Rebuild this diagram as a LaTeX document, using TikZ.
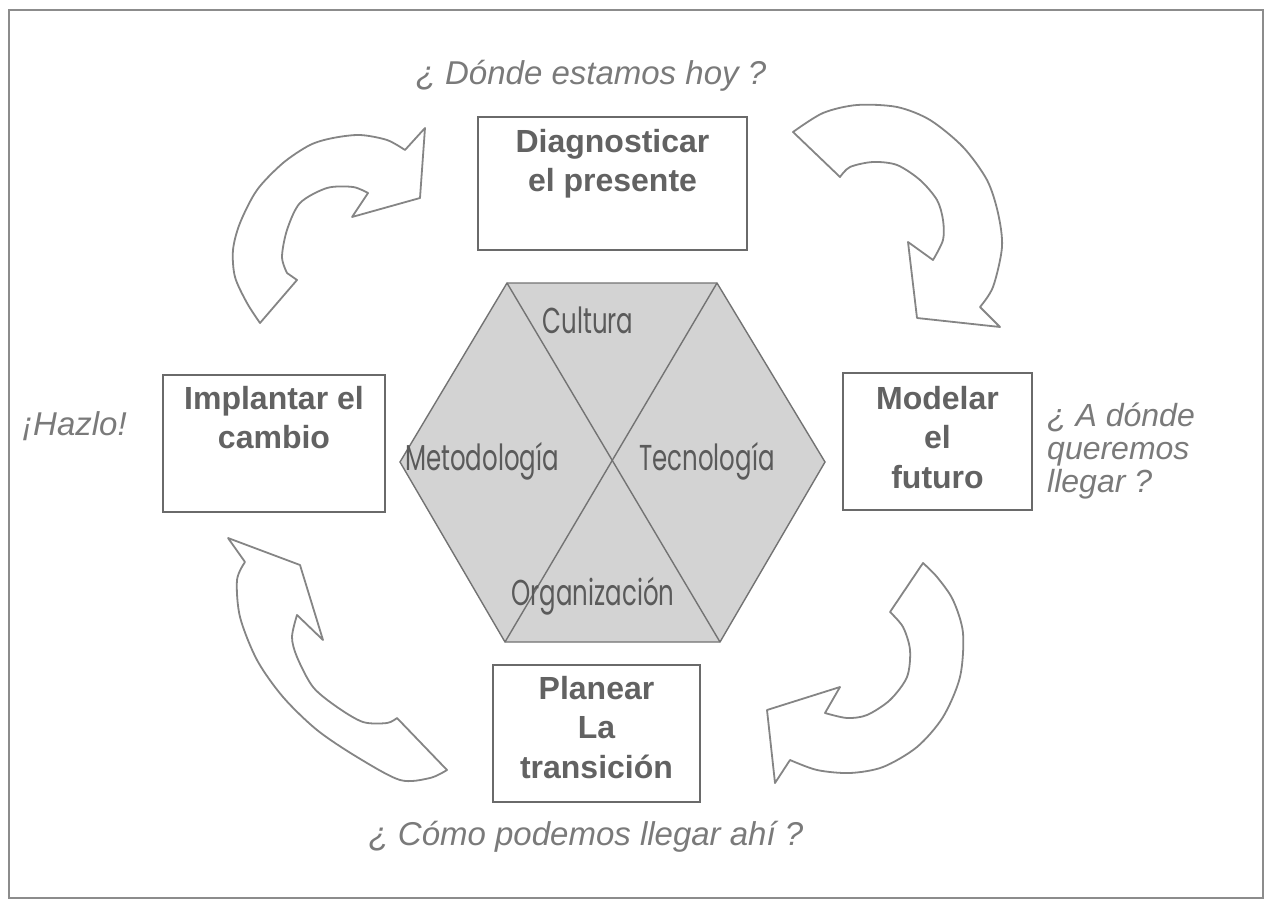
\documentclass[tikz,border=0pt]{standalone}
\usepackage{fontspec}
\setmainfont{Liberation Sans}
\newfontfamily\hexfont[FakeStretch=0.68]{Poppins}
\usetikzlibrary{positioning}
\definecolor{ink}{HTML}{626262}
\definecolor{askgray}{HTML}{7A7A7A}
\definecolor{boxline}{HTML}{6A6A6A}
\definecolor{hexfill}{HTML}{D3D3D3}
\definecolor{hexink}{HTML}{5A5A5A}
\definecolor{edge}{HTML}{858585}
\begin{document}
\begin{tikzpicture}[
  x=1pt, y=-1pt,
  every node/.style={align=center},
  frame/.style  ={draw=black!45, line width=2pt},
  box/.style    ={draw=boxline, line width=1.6pt, fill=white},
  boxtxt/.style ={inner sep=0pt, text=ink, font=\fontsize{32}{39.5}\selectfont\bfseries},
  ask/.style    ={inner sep=0pt, text=askgray, font=\fontsize{33}{33}\selectfont\itshape},
  hexedge/.style={draw=black!55, line width=1.4pt},
  hexlbl/.style ={inner sep=0pt, text=hexink, font=\fontsize{36}{36}\selectfont\hexfont},
  turn/.style   ={draw=edge, line width=1.8pt, fill=white, line join=round},
]

\useasboundingbox (0,0) rectangle (1268,904);
\draw[frame] (9,10) rectangle (1263,898);

\coordinate (h1) at (400,462);
\coordinate (h2) at (507,283);
\coordinate (h3) at (717,283);
\coordinate (h4) at (825,462);
\coordinate (h5) at (720,642);
\coordinate (h6) at (505,642);
\draw[hexedge, fill=hexfill] (h1) -- (h2) -- (h3) -- (h4) -- (h5) -- (h6) -- cycle;
\draw[hexedge] (h2) -- (h5);
\draw[hexedge] (h3) -- (h6);

\node[hexlbl, anchor=base] (cult) at (588,333) {Cultura};
\node[hexlbl, anchor=base] (meto) at (482,470) {Metodología};
\node[hexlbl, anchor=base] (tecn) at (707,470) {Tecnología};
\node[hexlbl, anchor=base] (orga) at (593,605) {Organización};

\node[box, minimum width=269pt, minimum height=133pt] (diag)  at (612.5,183.5) {};
\node[boxtxt, below=12.5pt of diag.north] (diagtxt) {Diagnosticar\\el presente};

\node[box, minimum width=189pt, minimum height=137pt] (model) at (937.5,441.5) {};
\node[boxtxt, below=13.5pt of model.north] (modeltxt) {Modelar\\el\\futuro};

\node[box, minimum width=207pt, minimum height=137pt] (plan)  at (596.5,733.5) {};
\node[boxtxt, below=11.5pt of plan.north] (plantxt) {Planear\\La\\transición};

\node[box, minimum width=222pt, minimum height=137pt] (impl)  at (274,443.5) {};
\node[boxtxt, below=11.5pt of impl.north] (impltxt) {Implantar el\\cambio};

\node[ask, anchor=base] (hoy) at (591,85) {¿ Dónde estamos hoy ?};
\node[ask, anchor=north west, align=left, font=\fontsize{32}{33}\selectfont\itshape]
  (adonde) at (1047,403) {¿ A dónde\\queremos\\llegar ?};
\node[ask, anchor=base] (como) at (586,845) {¿ Cómo podemos llegar ahí ?};
\node[ask, anchor=base west] (hazlo) at (22,435) {¡Hazlo!};

\draw[turn] plot[smooth] coordinates {(260,323) (247,303) (235,277) (233,250) (240,223) (257,190)
    (283,163) (310,145) (333,138) (360,135) (387,140) (405,150)}
  -- (425,128) -- (420,198) -- (352,217) -- (368,193)
  -- plot[smooth] coordinates {(368,193) (353,187) (327,188) (300,203) (287,230) (282,257) (287,273)}
  -- (297,280) -- cycle;

\draw[turn] plot[smooth] coordinates {(793,132) (823,113) (857,105) (897,107) (930,120) (963,147)
    (987,180) (998,213) (1002,247) (993,287) (980,307)}
  -- (1000,327) -- (917,318) -- (908,242) -- (933,260)
  -- plot[smooth] coordinates {(933,260) (943,240) (943,220) (937,200) (920,180) (897,165)
    (873,162) (850,167) (840,177)}
  -- cycle;

\draw[turn] (923,563) -- (890,612)
  -- plot[smooth] coordinates {(890,612) (903,627) (910,650) (907,677) (890,700) (867,715)
    (847,718) (825,713)}
  -- (840,687) -- (767,710) -- (775,783) -- (790,760)
  -- plot[smooth] coordinates {(790,760) (817,770) (850,773) (883,767) (917,747) (943,717)
    (960,677) (963,633) (953,600) (937,577) (923,563)}
  -- cycle;

\draw[turn] (228,538) -- (300,565) -- (323,640) -- (297,615)
  -- plot[smooth] coordinates {(297,615) (292,637) (297,657) (313,687) (337,707) (363,722)
    (387,723) (397,718)}
  -- (447,770)
  -- plot[smooth] coordinates {(447,770) (430,778) (400,780) (357,757) (317,730) (283,697)
    (257,660) (240,617) (237,580) (245,562)}
  -- cycle;

\end{tikzpicture}
\end{document}
